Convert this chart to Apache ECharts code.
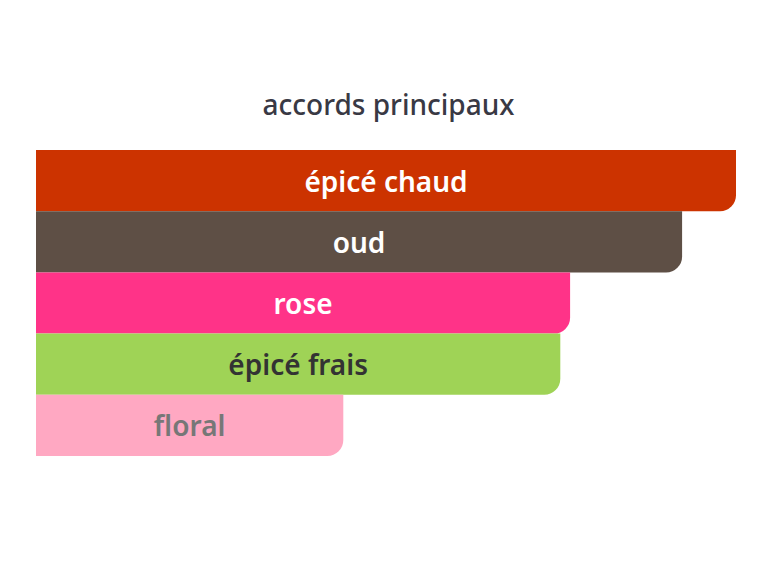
<!DOCTYPE html>
<html>
<head>
<meta charset="utf-8">
<script src="https://cdn.jsdelivr.net/npm/echarts@6/dist/echarts.min.js"></script>
<style>
  html, body { margin: 0; padding: 0; background: #fff; }
  #chart { width: 777px; height: 565px; }
</style>
</head>
<body>
<div id="chart"></div>
<script>
// accords principaux — horizontal bars, top to bottom
var accords = ['épicé chaud', 'oud', 'rose', 'épicé frais', 'floral'];
var values = [100, 92.3, 76.3, 74.9, 43.9];
var barColors = ['#cc3300', '#5e4f45', '#ff3388', '#9fd356', '#ffa8c2'];
var labelColors = ['#ffffff', '#ffffff', '#ffffff', '#333333', '#777777'];

var font = '"Noto Sans", "Open Sans", sans-serif';

var chart = echarts.init(document.getElementById('chart'), null, { renderer: 'svg' });
chart.setOption({
  animation: false,
  title: {
    text: 'accords principaux',
    left: 'center',
    top: 85,
    textStyle: { color: '#393944', fontSize: 28, fontWeight: 500, fontFamily: font }
  },
  grid: { left: 36, right: 41, top: 150, bottom: 109 },
  xAxis: {
    type: 'value',
    min: 0,
    max: 100,
    show: false
  },
  yAxis: {
    type: 'category',
    data: accords,
    inverse: true,
    show: false
  },
  series: [{
    type: 'bar',
    barCategoryGap: 0,
    data: values.map(function (v, i) {
      return {
        value: v,
        itemStyle: { color: barColors[i], borderRadius: [0, 0, 16, 0] },
        label: { color: labelColors[i] }
      };
    }),
    label: {
      show: true,
      position: 'inside',
      formatter: '{b}',
      fontSize: 28,
      fontWeight: 600,
      fontFamily: font
    }
  }]
});
window.addEventListener('resize', function () { chart.resize(); });
</script>
</body>
</html>
